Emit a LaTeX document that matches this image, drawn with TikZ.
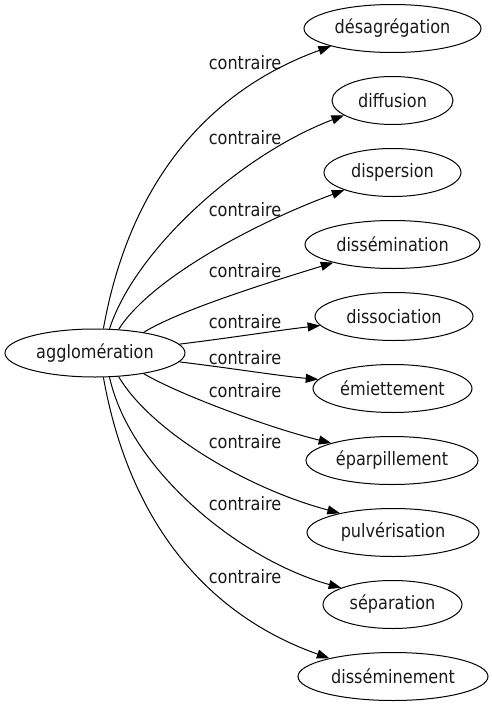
\documentclass[tikz,border=0pt]{standalone}
\usepackage{fontspec}
\setmainfont{DejaVu Sans}[FakeStretch=0.87]
\usetikzlibrary{shapes.geometric,arrows.meta}
\begin{document}
\begin{tikzpicture}[x=1pt,y=-1pt,
  every node/.style={font=\fontsize{18.5}{22}\selectfont, text=black!90},
  term/.style={ellipse, draw, line width=1pt, inner sep=0pt, minimum height=48pt},
  lab/.style={inner sep=0pt},
  rel/.style={line width=1pt, -{Triangle[length=12.5pt,width=9pt]}}]
\useasboundingbox (0,0) rectangle (491,707);
\node[term, minimum width=180pt] (src) at (95,353) {agglomération};
\node[term, minimum width=177pt] (t1) at (392.5,28.5) {désagrégation};
\node[term, minimum width=121pt] (t2) at (392.5,100.5) {diffusion};
\node[term, minimum width=137pt] (t3) at (392.5,172.5) {dispersion};
\node[term, minimum width=175pt] (t4) at (392.5,244.5) {dissémination};
\node[term, minimum width=158pt] (t5) at (394,316.5) {dissociation};
\node[term, minimum width=159pt] (t6) at (392.5,388.5) {émiettement};
\node[term, minimum width=172pt] (t7) at (392,460.5) {éparpillement};
\node[term, minimum width=172pt] (t8) at (393,532.5) {pulvérisation};
\node[term, minimum width=139pt] (t9) at (392.5,604.5) {séparation};
\node[term, minimum width=190pt] (t10) at (393,676.5) {disséminement};

\node[lab] (l1) at (245,63) {contraire};
\node[lab] (l2) at (245,138) {contraire};
\node[lab] (l3) at (245,210) {contraire};
\node[lab] (l4) at (245,271) {contraire};
\node[lab] (l5) at (245,322) {contraire};
\node[lab] (l6) at (245,358) {contraire};
\node[lab] (l7) at (245,391) {contraire};
\node[lab] (l8) at (245,442) {contraire};
\node[lab] (l9) at (245,504) {contraire};
\node[lab] (l10) at (245,577) {contraire};

\draw[rel] (src.71.5) .. controls (130,180) and (210,90) .. (t1.196.6);
\draw[rel] (src.59.4) .. controls (135,250) and (240,155) .. (t2.197.4);
\draw[rel] (src.45.3) .. controls (150,280) and (250,225) .. (t3.200.4);
\draw[rel] (src.23.5) .. controls (180,310) and (270,282) .. (t4.197.9);
\draw[rel] (src.6.7) .. controls (230,338) and (280,330) .. (t5.187.8);
\draw[rel] (src.-6.7) .. controls (230,368) and (280,376) .. (t6.173.6);
\draw[rel] (src.-23.5) .. controls (180,395) and (270,428) .. (t7.164.1);
\draw[rel] (src.-45.3) .. controls (150,430) and (245,488) .. (t8.160.9);
\draw[rel] (src.-59.4) .. controls (130,470) and (240,560) .. (t9.162.9);
\draw[rel] (src.-71.5) .. controls (130,526) and (210,616) .. (t10.164.3);
\end{tikzpicture}
\end{document}
